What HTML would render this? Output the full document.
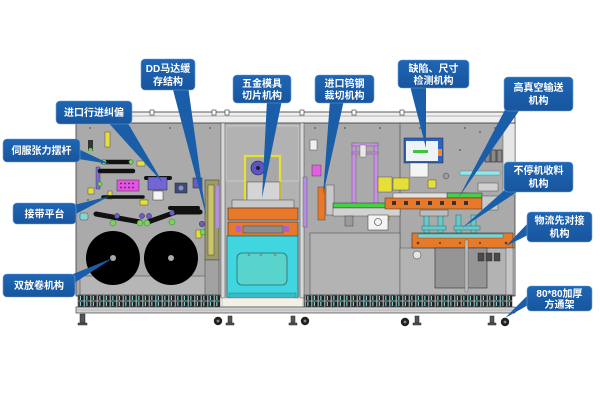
<!DOCTYPE html>
<html>
<head>
<meta charset="utf-8">
<style>
  html,body{margin:0;padding:0;background:#fff;}
  body{width:600px;height:400px;overflow:hidden;}
  svg{display:block;}
  .lb{font-family:"Liberation Sans","Noto Sans CJK SC",sans-serif;font-weight:bold;font-size:10px;fill:#fff;text-anchor:middle;}
</style>
</head>
<body>
<svg width="600" height="400" viewBox="0 0 600 400" xmlns="http://www.w3.org/2000/svg">
<defs>
  <pattern id="grid" x="0" y="295" width="6.5" height="6" patternUnits="userSpaceOnUse">
    <rect width="6.5" height="6" fill="#9fa8a8"/>
    <rect x="0.4" y="0.5" width="5.2" height="5" fill="#1f2323"/>
    <rect x="1.8" y="1" width="1.1" height="4" fill="#7fe3e6"/>
  </pattern>
  <linearGradient id="bl" x1="0" y1="0" x2="0" y2="1">
    <stop offset="0" stop-color="#1f66b3"/>
    <stop offset="1" stop-color="#18559e"/>
  </linearGradient>
</defs>

<!-- ============ MACHINE BODY ============ -->
<rect x="76" y="122" width="439" height="174" fill="#aaaaaa" stroke="#3c3c3c" stroke-width="0.8"/>
<rect x="222" y="123" width="81" height="173" fill="#b2b2b2"/>
<rect x="226" y="126" width="73" height="55" fill="none" stroke="#cfcfcf" stroke-width="0.8"/>
<rect x="503" y="123" width="12" height="72" fill="#e6e6e6" stroke="#555" stroke-width="0.5"/>
<rect x="76" y="112" width="439" height="11" fill="#efefef" stroke="#333" stroke-width="0.8"/>
<line x1="76" y1="116" x2="515" y2="116" stroke="#777" stroke-width="0.5"/>
<g fill="#fff" stroke="#333" stroke-width="0.6">
  <rect x="90" y="110" width="4" height="5"/><rect x="150" y="110" width="4" height="5"/>
  <rect x="212" y="110" width="4" height="5"/><rect x="225" y="110" width="4" height="5"/>
  <rect x="300" y="110" width="4" height="5"/><rect x="352" y="110" width="4" height="5"/>
  <rect x="400" y="110" width="4" height="5"/><rect x="505" y="108" width="6" height="6"/>
</g>
<rect x="221" y="123" width="4" height="175" fill="#d8d8d8" stroke="#444" stroke-width="0.5"/>
<rect x="300" y="123" width="4" height="175" fill="#d8d8d8" stroke="#444" stroke-width="0.5"/>
<line x1="400" y1="123" x2="400" y2="296" stroke="#555" stroke-width="0.7"/>

<g fill="#555">
  <circle cx="90" cy="128" r="0.9"/><circle cx="130" cy="128" r="0.9"/><circle cx="170" cy="128" r="0.9"/>
  <circle cx="210" cy="128" r="0.9"/><circle cx="315" cy="128" r="0.9"/><circle cx="345" cy="128" r="0.9"/>
  <circle cx="380" cy="128" r="0.9"/><circle cx="420" cy="128" r="0.9"/><circle cx="465" cy="128" r="0.9"/>
  <circle cx="495" cy="128" r="0.9"/><circle cx="88" cy="200" r="0.9"/><circle cx="190" cy="245" r="0.9"/>
  <circle cx="460" cy="150" r="0.9"/><circle cx="480" cy="132" r="0.9"/>
</g>

<!-- ===== LEFT SECTION ===== -->
<rect x="80" y="276" width="136" height="19" fill="#b6b6b6" stroke="#555" stroke-width="0.6"/>
<rect x="88" y="140" width="5" height="11" fill="#333"/><circle cx="90.5" cy="150" r="2" fill="#6fd24a"/>
<g fill="#e7de3a" stroke="#333" stroke-width="0.4">
  <rect x="105" y="132" width="5" height="15"/>
  <rect x="137" y="161" width="8" height="5"/>
  <rect x="88" y="188" width="6" height="6"/>
  <rect x="140" y="200" width="8" height="5"/>
  <rect x="108" y="191" width="4" height="8"/>
  <rect x="196" y="230" width="5" height="8"/>
</g>
<rect x="96" y="167" width="4" height="22" fill="#7a6ad0" stroke="#333" stroke-width="0.4"/>
<g stroke="#111" stroke-linecap="round" fill="none">
  <line x1="103" y1="162" x2="131" y2="162" stroke-width="4.5"/>
  <line x1="100" y1="171" x2="133" y2="171" stroke-width="4.5"/>
  <line x1="103" y1="197" x2="143" y2="197" stroke-width="3.5"/>
  <line x1="146" y1="178" x2="170" y2="178" stroke-width="4"/>
  <line x1="170" y1="208" x2="198" y2="208" stroke-width="4"/>
  <polyline points="96,214 140,222" stroke-width="5"/>
  <polyline points="148,222 176,212 200,212" stroke-width="5"/>
</g>
<g fill="#74d65a" stroke="#2a5a2a" stroke-width="0.4">
  <circle cx="104" cy="162" r="2.4"/><circle cx="131" cy="162" r="2.2"/>
  <circle cx="100" cy="184" r="2.2"/><circle cx="113" cy="223" r="3"/>
  <circle cx="140" cy="223" r="3"/><circle cx="147" cy="223" r="3"/>
  <circle cx="172" cy="222" r="3"/><circle cx="203" cy="232" r="3"/>
</g>
<g fill="#6a5cc8" stroke="#222" stroke-width="0.4">
  <circle cx="117" cy="216" r="2.6"/><circle cx="142" cy="216" r="2.6"/>
  <circle cx="149" cy="216" r="2.6"/><circle cx="172" cy="213" r="2.6"/>
  <circle cx="202" cy="224" r="2.8"/>
</g>
<rect x="117" y="180" width="22" height="11" fill="#e454e4" stroke="#333" stroke-width="0.5"/>
<g fill="#333"><circle cx="121" cy="183.5" r="0.9"/><circle cx="125" cy="183.5" r="0.9"/><circle cx="129" cy="183.5" r="0.9"/><circle cx="133" cy="183.5" r="0.9"/>
<circle cx="121" cy="187.5" r="0.9"/><circle cx="125" cy="187.5" r="0.9"/><circle cx="129" cy="187.5" r="0.9"/><circle cx="133" cy="187.5" r="0.9"/></g>
<rect x="148" y="177" width="19" height="13" fill="#7166d4" stroke="#222" stroke-width="0.5"/>
<rect x="153" y="191" width="10" height="9" fill="#f4f4f4" stroke="#333" stroke-width="0.5"/>
<rect x="175" y="183" width="12" height="10" fill="#3e4a78" stroke="#222" stroke-width="0.5"/>
<circle cx="181" cy="188" r="2.5" fill="#8a93b8"/>
<rect x="193" y="178" width="9" height="10" fill="#6a5cc8" stroke="#222" stroke-width="0.5"/>
<rect x="80" y="213" width="8" height="7" rx="1.5" fill="#7fd8d8" stroke="#333" stroke-width="0.4"/>
<rect x="205" y="180" width="14" height="80" fill="#9c9a6a" stroke="#333" stroke-width="0.5"/>
<rect x="208" y="185" width="6" height="70" fill="#c9c46a" stroke="#333" stroke-width="0.4"/>
<rect x="216" y="186" width="3" height="42" fill="#b48ee0"/>
<rect x="205" y="260" width="14" height="35" fill="#a2a2a2" stroke="#444" stroke-width="0.5"/>
<circle cx="113" cy="258" r="27" fill="#000"/>
<circle cx="171" cy="258" r="27" fill="#000"/>
<circle cx="113" cy="258" r="3" fill="#aaa"/>
<circle cx="171" cy="258" r="3" fill="#aaa"/>

<!-- ===== MIDDLE SECTION ===== -->
<rect x="245" y="156" width="35" height="44" fill="#a8a8a8" stroke="#e8e030" stroke-width="2.2"/>
<circle cx="258" cy="168" r="7" fill="#5a55c8" stroke="#222" stroke-width="0.6"/>
<circle cx="258" cy="168" r="2" fill="#222"/>
<rect x="247" y="182" width="33" height="20" fill="#d4d4d4" stroke="#444" stroke-width="0.5"/>
<rect x="232" y="200" width="62" height="8" fill="#c8c8c8" stroke="#444" stroke-width="0.5"/>
<rect x="228" y="208" width="70" height="12" fill="#e8792a" stroke="#333" stroke-width="0.6"/>
<rect x="228" y="222" width="70" height="14" fill="#e8792a" stroke="#333" stroke-width="0.6"/>
<rect x="243" y="226" width="40" height="7" fill="#8d8d8d" stroke="#333" stroke-width="0.4"/>
<rect x="236" y="226" width="5" height="6" fill="#b160c8"/><rect x="284" y="226" width="5" height="6" fill="#b160c8"/>
<rect x="227" y="236" width="71" height="62" fill="#3fd6e0" stroke="#2a6a70" stroke-width="0.8"/>
<rect x="237" y="253" width="50" height="32" rx="5" fill="#58d4cc" stroke="#2a6a6a" stroke-width="0.8"/>
<g fill="#8a8a8a"><circle cx="249" cy="255" r="1.3"/><circle cx="261" cy="255" r="1.3"/><circle cx="275" cy="255" r="1.3"/></g>
<rect x="229" y="293" width="67" height="5" fill="#35bcc6" stroke="#2a6a70" stroke-width="0.4"/>
<rect x="222" y="298" width="81" height="9" fill="#f3f1e6" stroke="#777" stroke-width="0.4"/>

<!-- ===== SECTION 303-400 ===== -->
<rect x="310" y="233" width="90" height="62" fill="#b3b3b3" stroke="#555" stroke-width="0.6"/>
<rect x="310" y="140" width="7" height="10" fill="#f0f0f0" stroke="#333" stroke-width="0.4"/>
<rect x="312" y="165" width="9" height="11" fill="#e060e0" stroke="#333" stroke-width="0.4"/>
<rect x="303" y="177" width="4" height="50" fill="#b48ee0" stroke="#333" stroke-width="0.3"/>
<rect x="318" y="187" width="7" height="33" fill="#e8792a" stroke="#333" stroke-width="0.4"/>
<rect x="326" y="185" width="8" height="30" fill="#c8c8c8" stroke="#333" stroke-width="0.4"/>
<g fill="#c98fe8" stroke="#555" stroke-width="0.4">
  <rect x="352" y="143" width="4" height="60"/>
  <rect x="374" y="143" width="4" height="60"/>
  <rect x="352" y="143" width="26" height="3"/>
  <rect x="352" y="152" width="26" height="2"/>
</g>
<rect x="360" y="145" width="6" height="12" fill="#e8e8e8" stroke="#333" stroke-width="0.3"/>
<g fill="#e7de3a" stroke="#333" stroke-width="0.4">
  <rect x="378" y="177" width="14" height="15"/>
  <rect x="383" y="212" width="6" height="8"/>
</g>
<rect x="333" y="203" width="67" height="5" fill="#45d045" stroke="#111" stroke-width="0.4"/>
<rect x="333" y="208" width="67" height="8" fill="#d2d2d2" stroke="#333" stroke-width="0.4"/>
<rect x="368" y="215" width="20" height="15" fill="#f4f4f4" stroke="#333" stroke-width="0.5"/>
<circle cx="378" cy="222" r="3.5" fill="none" stroke="#333" stroke-width="0.6"/>
<rect x="345" y="216" width="8" height="10" fill="#9a9a9a" stroke="#333" stroke-width="0.4"/>

<!-- ===== RIGHT SECTION ===== -->
<rect x="404" y="138" width="39" height="25" fill="#2f62c0" stroke="#222" stroke-width="0.5"/>
<rect x="406" y="141" width="32" height="20" fill="#eef3f8"/>
<rect x="413" y="150" width="15" height="3" fill="#3ec43e"/>
<rect x="438" y="149" width="4" height="7" fill="#f08a30"/>
<rect x="410" y="163" width="18" height="14" fill="#f4f4f4" stroke="#444" stroke-width="0.4"/>
<g fill="#e7de3a" stroke="#333" stroke-width="0.4">
  <rect x="393" y="178" width="16" height="12"/>
  <rect x="428" y="180" width="8" height="8"/>
</g>
<circle cx="446" cy="176" r="3" fill="#9a9a9a" stroke="#333" stroke-width="0.4"/>
<g fill="#8a8a8a" stroke="#222" stroke-width="0.6">
  <rect x="485" y="150" width="5" height="12"/><rect x="491" y="150" width="5" height="12"/><rect x="497" y="150" width="5" height="12"/>
</g>
<rect x="460" y="171" width="40" height="4" fill="#8ee8f0" stroke="#555" stroke-width="0.3"/>
<rect x="478" y="183" width="20" height="8" fill="#d0d0d0" stroke="#333" stroke-width="0.4"/>
<rect x="393" y="193" width="74" height="6" fill="#e0e0e0" stroke="#333" stroke-width="0.4"/>
<rect x="447" y="193" width="35" height="5" fill="#45d045" stroke="#111" stroke-width="0.4"/>
<rect x="385" y="198" width="97" height="11" fill="#e8792a" stroke="#333" stroke-width="0.5"/>
<g fill="#333"><rect x="392" y="201" width="4" height="4"/><rect x="404" y="201" width="4" height="4"/><rect x="416" y="201" width="4" height="4"/><rect x="428" y="201" width="4" height="4"/><rect x="440" y="201" width="4" height="4"/><rect x="452" y="201" width="4" height="4"/><rect x="464" y="201" width="4" height="4"/></g>
<rect x="482" y="196" width="16" height="14" fill="#c8c8c8" stroke="#333" stroke-width="0.4"/>
<g fill="#6cc8c8" stroke="#2a7a7a" stroke-width="0.6">
  <rect x="424" y="215" width="5" height="18"/><rect x="438" y="215" width="5" height="18"/>
  <rect x="456" y="215" width="5" height="18"/><rect x="471" y="215" width="5" height="18"/>
  <rect x="422" y="226" width="24" height="4"/><rect x="454" y="226" width="26" height="4"/>
</g>
<rect x="420" y="210" width="28" height="6" fill="#bcbcbc" stroke="#333" stroke-width="0.4"/>
<rect x="400" y="248" width="115" height="47" fill="#b3b3b3" stroke="#555" stroke-width="0.5"/>
<rect x="412" y="233" width="101" height="15" fill="#e57a2b" stroke="#333" stroke-width="0.6"/>
<rect x="418" y="234" width="85" height="4" fill="#7ed0cf" stroke="#333" stroke-width="0.3"/>
<g fill="#5a3a20"><circle cx="418" cy="243" r="1.3"/><circle cx="440" cy="243" r="1"/><circle cx="460" cy="243" r="1"/><circle cx="480" cy="243" r="1"/><circle cx="506" cy="243" r="1.3"/></g>
<circle cx="417" cy="255" r="4" fill="#e6e6e6" stroke="#333" stroke-width="0.5"/>
<rect x="435" y="248" width="52" height="40" fill="#959595" stroke="#333" stroke-width="0.6"/>
<rect x="465" y="240" width="3" height="52" fill="#bdbdbd" stroke="#444" stroke-width="0.3"/>
<g fill="#4a4a4a" stroke="#222" stroke-width="0.4">
  <rect x="478" y="253" width="6" height="8"/><rect x="486" y="253" width="6" height="8"/><rect x="494" y="253" width="6" height="8"/>
</g>
<rect x="506" y="248" width="7" height="47" fill="#c6c6c6" stroke="#444" stroke-width="0.4"/>

<!-- ===== BOTTOM ===== -->
<rect x="78" y="295" width="142" height="12" fill="url(#grid)" stroke="#333" stroke-width="0.5"/>
<rect x="304" y="295" width="208" height="12" fill="url(#grid)" stroke="#333" stroke-width="0.5"/>
<rect x="76" y="307" width="439" height="6" fill="#d3d3d3" stroke="#444" stroke-width="0.7"/>
<line x1="76" y1="310" x2="515" y2="310" stroke="#9a9a9a" stroke-width="0.5"/>
<g fill="#555" stroke="#222" stroke-width="0.5">
  <rect x="80" y="314" width="5" height="9"/><rect x="78" y="323" width="9" height="2"/>
  <rect x="228" y="316" width="4" height="7"/><rect x="226" y="323" width="8" height="2"/>
  <rect x="291" y="316" width="4" height="7"/><rect x="289" y="323" width="8" height="2"/>
  <rect x="415" y="316" width="4" height="7"/><rect x="413" y="323" width="8" height="2"/>
  <rect x="490" y="316" width="4" height="7"/><rect x="488" y="323" width="8" height="2"/>
</g>
<g fill="#222">
  <circle cx="218" cy="321" r="4.2"/><circle cx="305" cy="321" r="4.2"/>
  <circle cx="405" cy="322" r="4.2"/><circle cx="505" cy="322" r="4.2"/>
</g>
<g fill="#888"><circle cx="218" cy="321" r="1.4"/><circle cx="305" cy="321" r="1.4"/><circle cx="405" cy="322" r="1.4"/><circle cx="505" cy="322" r="1.4"/></g>

<!-- ============ CALLOUT POINTERS ============ -->
<g fill="#1a5ea9">
  <polygon points="172,86 188,86 206,215"/>
  <polygon points="106,120 126,120 163,183"/>
  <polygon points="72,146 72,158 110,164"/>
  <polygon points="70,206 70,217 110,196"/>
  <polygon points="58,280 68,287 113,258"/>
  <polygon points="267,100 282,100 262,198"/>
  <polygon points="330,100 344,100 323,195"/>
  <polygon points="410,86 426,86 426,148"/>
  <polygon points="506,108 521,108 459,197"/>
  <polygon points="508,187 520,190 462,228"/>
  <polygon points="530,221 530,234 506,246"/>
  <polygon points="530,293 530,304 505,318"/>
</g>

<!-- ============ LABELS ============ -->
<g fill="url(#bl)" stroke="#6f9fd6" stroke-width="0.6">
  <rect x="141" y="59" width="54" height="31" rx="4"/>
  <rect x="56" y="101" width="76" height="23" rx="4"/>
  <rect x="3" y="139" width="77" height="23" rx="4"/>
  <rect x="13" y="203" width="63" height="21" rx="4"/>
  <rect x="3" y="274" width="72" height="23" rx="4"/>
  <rect x="233" y="75" width="58" height="28" rx="4"/>
  <rect x="315" y="75" width="59" height="28" rx="4"/>
  <rect x="398" y="60" width="71" height="28" rx="4"/>
  <rect x="504" y="77" width="69" height="34" rx="4"/>
  <rect x="504" y="162" width="69" height="30" rx="4"/>
  <rect x="527" y="212" width="65" height="30" rx="4"/>
  <rect x="527" y="286" width="65" height="25" rx="4"/>
</g>
<g class="lb">
  <text class="lb" x="168" y="72">DD马达缓</text>
  <text class="lb" x="168" y="85">存结构</text>
  <text class="lb" x="94" y="116">进口行进纠偏</text>
  <text class="lb" x="41.5" y="154">伺服张力摆杆</text>
  <text class="lb" x="44.5" y="217.5">接带平台</text>
  <text class="lb" x="39" y="289">双放卷机构</text>
  <text class="lb" x="262" y="87">五金模具</text>
  <text class="lb" x="262" y="99">切片机构</text>
  <text class="lb" x="344.5" y="87">进口钨钢</text>
  <text class="lb" x="344.5" y="99">裁切机构</text>
  <text class="lb" x="433.5" y="72">缺陷、尺寸</text>
  <text class="lb" x="433.5" y="84">检测机构</text>
  <text class="lb" x="538.5" y="91">高真空输送</text>
  <text class="lb" x="538.5" y="104">机构</text>
  <text class="lb" x="538.5" y="174">不停机收料</text>
  <text class="lb" x="538.5" y="187">机构</text>
  <text class="lb" x="559.5" y="224">物流先对接</text>
  <text class="lb" x="559.5" y="237">机构</text>
  <text class="lb" x="559.5" y="297">80*80加厚</text>
  <text class="lb" x="559.5" y="308">方通架</text>
</g>
</svg>
</body>
</html>
